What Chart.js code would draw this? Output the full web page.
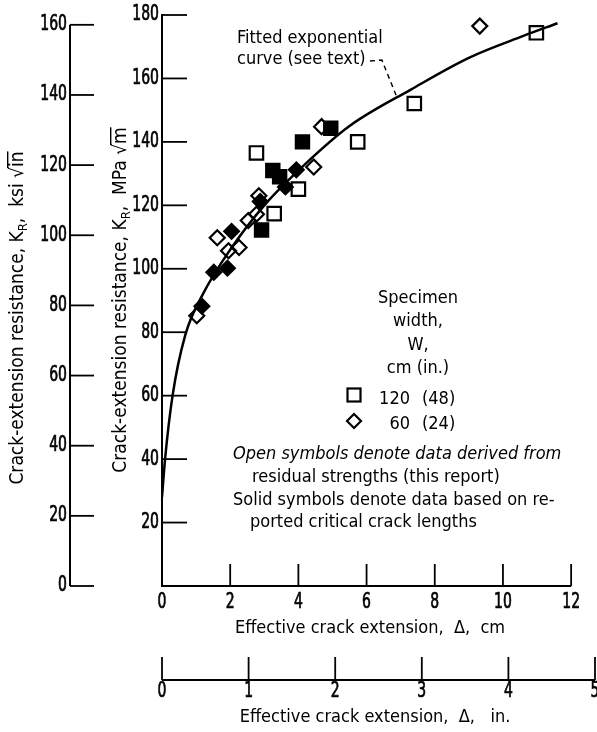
<!DOCTYPE html>
<html>
<head>
<meta charset="utf-8">
<script src="https://cdn.jsdelivr.net/npm/chart.js@4.4.1/dist/chart.umd.min.js"></script>
<style>
  html, body { margin: 0; padding: 0; background: #fff; }
</style>
</head>
<body>
<canvas id="myChart" width="597" height="732"></canvas>
<script>
const FONT = "'DejaVu Sans Condensed', 'DejaVu Sans', sans-serif";

// effective crack extension, cm  /  K_R, MPa sqrt(m)
const openSquareX = [2.77, 3.29, 4.0, 5.74, 7.4, 10.98];
const openSquareY = [136.5, 117.4, 125.1, 140.0, 152.1, 174.4];

const solidSquareX = [2.92, 3.25, 3.45, 4.12, 4.95];
const solidSquareY = [112.2, 131.0, 129.0, 140.0, 144.3];

const openDiamondX = [1.02, 1.62, 1.95, 2.26, 2.53, 2.77, 2.84, 4.45, 4.68, 9.32];
const openDiamondY = [85.2, 109.8, 105.7, 106.7, 115.2, 117.2, 123.0, 132.1, 144.8, 176.5];

const solidDiamondX = [1.17, 1.52, 1.92, 2.04, 2.88, 3.62, 3.94];
const solidDiamondY = [88.2, 98.9, 100.2, 111.8, 121.2, 125.8, 131.2];

// fitted exponential curve
const curveX = [0.0, 0.09, 0.31, 0.68, 1.2, 2.0, 3.0, 4.2, 5.5, 7.3, 9.0, 10.6, 11.6];
const curveY = [28, 40, 60, 79, 92, 106, 120, 133, 145, 156.5, 166.5, 173.4, 177.4];

// dashed leader from the curve label
const leaderX = [6.1, 6.45, 6.9];
const leaderY = [165.5, 165.8, 153.8];

// axis ticks
const cmTicks = [0, 2, 4, 6, 8, 10, 12];
const inTicks = [0, 1, 2, 3, 4, 5];
const mpaTicks = [20, 40, 60, 80, 100, 120, 140, 160, 180];
const ksiTicks = [0, 20, 40, 60, 80, 100, 120, 140, 160];

function pts(xs, ys) {
  return xs.map((x, i) => ({ x: x, y: ys[i] }));
}

function fitBox(size, horizontal) {
  return (scale) => {
    if (horizontal) scale.height = size; else scale.width = size;
    scale.paddingLeft = 0; scale.paddingRight = 0;
    scale.paddingTop = 0; scale.paddingBottom = 0;
  };
}

function line(ctx, x1, y1, x2, y2) {
  ctx.beginPath();
  ctx.moveTo(x1, y1);
  ctx.lineTo(x2, y2);
  ctx.stroke();
}

// squeezed, slightly heavier text for the tick numbers (the paper uses a condensed face)
function numText(ctx, s, x, y, align) {
  ctx.save();
  ctx.translate(x, y);
  ctx.scale(0.74, 1);
  ctx.textAlign = align;
  ctx.textBaseline = 'middle';
  ctx.lineWidth = 0.7;
  ctx.fillText(String(s), 0, 0);
  ctx.strokeText(String(s), 0, 0);
  ctx.restore();
}

// rotated y-axis title with K_R subscript and a radical sign
function drawKTitle(ctx, cx, cy, unit, rad) {
  ctx.save();
  ctx.translate(cx, cy);
  ctx.rotate(-Math.PI / 2);
  ctx.fillStyle = '#000';
  ctx.textBaseline = 'alphabetic';
  const big = '19px ' + FONT, small = '13px ' + FONT;
  const parts = [
    { t: 'Crack-extension resistance, K', f: big, dy: 0 },
    { t: 'R', f: small, dy: 4 },
    { t: ',  ' + unit + ' ', f: big, dy: 0 },
    { t: '\u221A', f: big, dy: 0 },
    { t: rad, f: big, dy: 0, over: true }
  ];
  let w = 0;
  parts.forEach(p => { ctx.font = p.f; p.w = ctx.measureText(p.t).width; w += p.w; });
  let px = -w / 2;
  parts.forEach(p => {
    ctx.font = p.f;
    ctx.fillText(p.t, px, 6 + p.dy);
    if (p.over) ctx.fillRect(px - 1, 6 - 16, p.w + 1, 1.4);
    px += p.w;
  });
  ctx.restore();
}

const paperAxes = {
  id: 'paperAxes',
  afterDraw(chart) {
    const { ctx } = chart;
    const { x, x2, y, y2 } = chart.scales;
    const y0 = y.getPixelForValue(0);
    ctx.save();
    ctx.strokeStyle = '#000';
    ctx.fillStyle = '#000';

    // axis lines
    ctx.lineWidth = 2;
    line(ctx, x.left, y0 + 1, x.left, y.getPixelForValue(180) - 1);
    line(ctx, x.getPixelForValue(0), y0, x.getPixelForValue(12), y0);
    line(ctx, y2.right, y2.getPixelForValue(0), y2.right, y2.getPixelForValue(160));
    line(ctx, x2.getPixelForValue(0), x2.top, x2.getPixelForValue(5), x2.top);

    // inward ticks
    ctx.lineWidth = 1.8;
    mpaTicks.forEach(v => { const p = y.getPixelForValue(v); line(ctx, x.left, p, x.left + 25, p); });
    ksiTicks.forEach(v => { const p = y2.getPixelForValue(v); line(ctx, y2.right, p, y2.right + 24, p); });
    cmTicks.slice(1).forEach(v => { const p = x.getPixelForValue(v); line(ctx, p, y0, p, y0 - 22); });
    inTicks.forEach(v => { const p = x2.getPixelForValue(v); line(ctx, p, x2.top, p, x2.top - 23); });

    // tick numbers
    ctx.font = '21px ' + FONT;
    mpaTicks.forEach(v => numText(ctx, v, x.left - 3, y.getPixelForValue(v), 'right'));
    ksiTicks.forEach(v => numText(ctx, v, y2.right - 3, y2.getPixelForValue(v), 'right'));
    cmTicks.forEach(v => numText(ctx, v, x.getPixelForValue(v), y0 + 17, 'center'));
    inTicks.forEach(v => numText(ctx, v, x2.getPixelForValue(v), x2.top + 12, 'center'));

    // axis titles
    drawKTitle(ctx, 17, 318, 'ksi', 'in');
    drawKTitle(ctx, 120, 300, 'MPa', 'm');
    ctx.font = '18px ' + FONT;
    ctx.textAlign = 'center';
    ctx.textBaseline = 'middle';
    ctx.fillText('Effective crack extension,  \u0394,  cm', 370, 628);
    ctx.fillText('Effective crack extension,  \u0394,   in.', 375, 717);

    // curve label
    ctx.textAlign = 'left';
    ctx.textBaseline = 'alphabetic';
    ctx.fillText('Fitted exponential', 237, 43);
    ctx.fillText('curve (see text)', 237, 64);

    // specimen key
    ctx.textAlign = 'center';
    ['Specimen', 'width,', 'W,', 'cm (in.)'].forEach((t, i) => ctx.fillText(t, 418, 303 + i * 23.3));
    ctx.textAlign = 'right';
    ctx.fillText('120', 410, 404);
    ctx.fillText('60', 410, 429);
    ctx.textAlign = 'left';
    ctx.fillText('(48)', 422, 404);
    ctx.fillText('(24)', 422, 429);
    ctx.lineWidth = 2.2;
    ctx.strokeRect(347.5, 388.5, 13, 13);
    ctx.beginPath();
    ctx.moveTo(354, 414); ctx.lineTo(361, 421); ctx.lineTo(354, 428); ctx.lineTo(347, 421);
    ctx.closePath();
    ctx.stroke();

    ctx.font = 'italic 18px ' + FONT;
    ctx.fillText('Open symbols denote data derived from', 233, 459);
    ctx.font = '18px ' + FONT;
    ctx.fillText('residual strengths (this report)', 252, 482);
    ctx.fillText('Solid symbols denote data based on re-', 233, 505);
    ctx.fillText('ported critical crack lengths', 250, 527);
    ctx.restore();
  }
};

const hidden = { display: false };

new Chart(document.getElementById('myChart'), {
  type: 'scatter',
  data: {
    datasets: [
      { data: pts(solidSquareX, solidSquareY), pointStyle: 'rect', pointRadius: 9.5,
        backgroundColor: '#000', borderColor: '#000', borderWidth: 2 },
      { data: pts(solidDiamondX, solidDiamondY), pointStyle: 'rectRot', pointRadius: 7.5,
        backgroundColor: '#000', borderColor: '#000', borderWidth: 2 },
      { data: pts(openSquareX, openSquareY), pointStyle: 'rect', pointRadius: 9.5,
        backgroundColor: 'rgba(0,0,0,0)', borderColor: '#000', borderWidth: 2.2 },
      { data: pts(openDiamondX, openDiamondY), pointStyle: 'rectRot', pointRadius: 7.5,
        backgroundColor: 'rgba(0,0,0,0)', borderColor: '#000', borderWidth: 2.2 },
      { data: pts(curveX, curveY), showLine: true, pointRadius: 0, borderColor: '#000',
        borderWidth: 2.5, cubicInterpolationMode: 'monotone' },
      { data: pts(leaderX, leaderY), showLine: true, pointRadius: 0, borderColor: '#000',
        borderWidth: 1.4, borderDash: [5, 4] }
    ]
  },
  options: {
    responsive: false,
    animation: false,
    devicePixelRatio: 1,
    layout: { autoPadding: false, padding: { top: 15, right: 2, left: 0, bottom: 0 } },
    plugins: { legend: { display: false }, tooltip: { enabled: false } },
    scales: {
      x: {
        type: 'linear', position: 'bottom', min: 0, max: 12.7,
        grid: hidden, border: hidden, ticks: { display: false },
        afterFit: fitBox(94, true)
      },
      x2: {
        type: 'linear', position: 'bottom', weight: 1, min: 0, max: 5,
        grid: hidden, border: hidden, ticks: { display: false },
        afterFit: fitBox(52, true)
      },
      y: {
        type: 'linear', position: 'left', min: 0, max: 180,
        grid: hidden, border: hidden, ticks: { display: false },
        afterFit: fitBox(92, false)
      },
      y2: {
        type: 'linear', position: 'left', weight: 1, min: 0, max: 162.8,
        grid: hidden, border: hidden, ticks: { display: false },
        afterFit: fitBox(70, false)
      }
    }
  },
  plugins: [paperAxes]
});
</script>
</body>
</html>
